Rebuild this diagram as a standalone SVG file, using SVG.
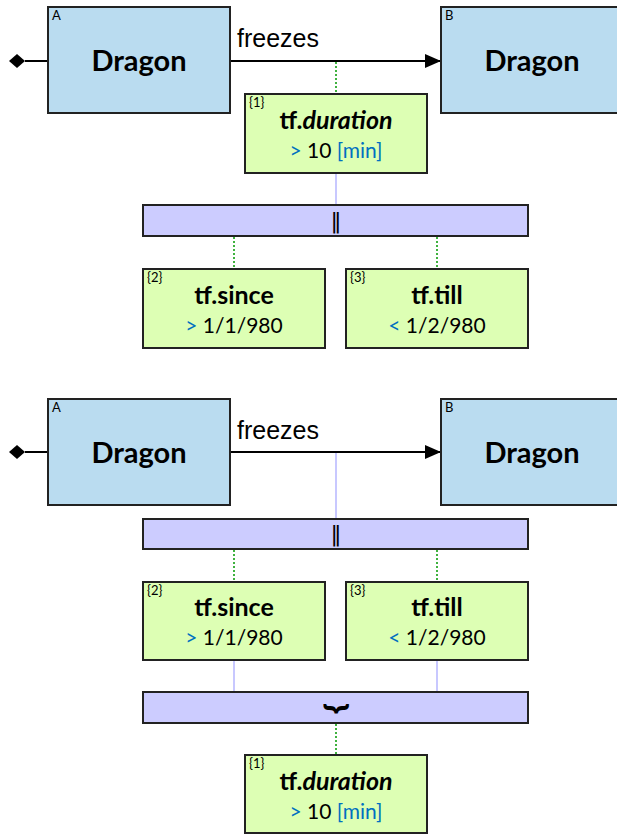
<svg xmlns="http://www.w3.org/2000/svg" width="617" height="834" viewBox="0 0 617 834">
<defs>
<style>
.ent{fill:#BADCF0;stroke:#222;stroke-width:2}
.cond{fill:#DDFFB4;stroke:#222;stroke-width:2}
.bar{fill:#CCCCFF;stroke:#222;stroke-width:2}
.rel{stroke:#000;stroke-width:2;fill:none}
.dot{stroke:#009900;stroke-width:1.5;stroke-dasharray:2,2;fill:none}
.lav{stroke:#C8C8FF;stroke-width:2;fill:none}
.tag{font-family:Lato,"Open Sans",sans-serif;font-size:13px;fill:#000}
.name{font-family:Lato,"Open Sans",sans-serif;font-size:29px;font-weight:bold;fill:#000;text-anchor:middle}
.ttl{font-family:Lato,"Open Sans",sans-serif;font-size:25px;font-weight:bold;fill:#000;text-anchor:middle}
.val{font-family:Lato,"Open Sans",sans-serif;font-size:21px;fill:#000;text-anchor:middle}
.blue{fill:#0070C0}
.lbl{font-family:"Liberation Sans",Arial,sans-serif;font-size:25px;fill:#000}
.sym{font-family:"DejaVu Sans",sans-serif;font-size:22px;fill:#000;text-anchor:middle}
.brace{font-family:"DejaVu Sans",sans-serif;font-size:44px;fill:#000;text-anchor:middle}
</style>
<marker id="arr" markerWidth="16" markerHeight="14" refX="16" refY="7" orient="auto" markerUnits="userSpaceOnUse">
<path d="M0,0 L16,7 L0,14 Z" fill="#000"/>
</marker>
</defs>

<g id="connectors">
<!-- top diagram -->
<path class="rel" d="M25,61 H48"/>
<path d="M9,61 L17,54 L25,61 L17,68 Z" fill="#000"/>
<path class="rel" d="M230,61 H441" marker-end="url(#arr)"/>
<text class="lbl" x="237" y="47">freezes</text>
<path class="dot" d="M336,62 V93"/>
<path class="lav" d="M336,174 V205"/>
<path class="dot" d="M234,237 V268"/>
<path class="dot" d="M437,237 V268"/>
<!-- bottom diagram -->
<path class="rel" d="M25,452 H48"/>
<path d="M9,452 L17,445 L25,452 L17,459 Z" fill="#000"/>
<path class="rel" d="M230,452 H441" marker-end="url(#arr)"/>
<text class="lbl" x="237" y="439">freezes</text>
<path class="lav" d="M336,453 V519"/>
<path class="dot" d="M234,550 V581"/>
<path class="dot" d="M437,550 V581"/>
<path class="lav" d="M234,661 V692"/>
<path class="lav" d="M437,661 V692"/>
<path class="dot" d="M336,724 V755"/>
</g>

<!-- top diagram nodes -->
<g id="entityA1">
<rect class="ent" x="48" y="7" width="182" height="106"/>
<text class="tag" x="52" y="20">A</text>
<text class="name" x="139" y="71">Dragon</text>
</g>
<g id="entityB1">
<rect class="ent" x="441" y="7" width="185" height="106"/>
<text class="tag" x="445" y="20">B</text>
<text class="name" x="532" y="71">Dragon</text>
</g>
<g id="duration1">
<rect class="cond" x="245" y="94" width="182" height="79"/>
<text class="tag" x="249" y="107">{1}</text>
<text class="ttl" x="336" y="129">tf.<tspan font-style="italic">duration</tspan></text>
<text class="val" x="336" y="158"><tspan class="blue">&gt;</tspan> 10 <tspan class="blue">[min]</tspan></text>
</g>
<g id="par1">
<rect class="bar" x="143" y="205" width="385" height="31"/>
<text class="sym" x="336" y="228">‖</text>
</g>
<g id="since1">
<rect class="cond" x="143" y="269" width="182" height="79"/>
<text class="tag" x="147" y="282">{2}</text>
<text class="ttl" x="234" y="304">tf.since</text>
<text class="val" x="234" y="333"><tspan class="blue">&gt;</tspan> 1/1/980</text>
</g>
<g id="till1">
<rect class="cond" x="346" y="269" width="182" height="79"/>
<text class="tag" x="350" y="282">{3}</text>
<text class="ttl" x="437" y="304">tf.till</text>
<text class="val" x="437" y="333"><tspan class="blue">&lt;</tspan> 1/2/980</text>
</g>

<!-- bottom diagram nodes -->
<g id="entityA2">
<rect class="ent" x="48" y="399" width="182" height="106"/>
<text class="tag" x="52" y="412">A</text>
<text class="name" x="139" y="463">Dragon</text>
</g>
<g id="entityB2">
<rect class="ent" x="441" y="399" width="185" height="106"/>
<text class="tag" x="445" y="412">B</text>
<text class="name" x="532" y="463">Dragon</text>
</g>
<g id="par2">
<rect class="bar" x="143" y="519" width="385" height="30"/>
<text class="sym" x="336" y="541">‖</text>
</g>
<g id="since2">
<rect class="cond" x="143" y="582" width="182" height="78"/>
<text class="tag" x="147" y="595">{2}</text>
<text class="ttl" x="234" y="616">tf.since</text>
<text class="val" x="234" y="645"><tspan class="blue">&gt;</tspan> 1/1/980</text>
</g>
<g id="till2">
<rect class="cond" x="346" y="582" width="182" height="78"/>
<text class="tag" x="350" y="595">{3}</text>
<text class="ttl" x="437" y="616">tf.till</text>
<text class="val" x="437" y="645"><tspan class="blue">&lt;</tspan> 1/2/980</text>
</g>
<g id="union2">
<rect class="bar" x="143" y="692" width="385" height="31"/>
<text class="brace" x="336" y="699">⏟</text>
</g>
<g id="duration2">
<rect class="cond" x="245" y="755" width="182" height="78"/>
<text class="tag" x="249" y="768">{1}</text>
<text class="ttl" x="336" y="790">tf.<tspan font-style="italic">duration</tspan></text>
<text class="val" x="336" y="819"><tspan class="blue">&gt;</tspan> 10 <tspan class="blue">[min]</tspan></text>
</g>
</svg>
